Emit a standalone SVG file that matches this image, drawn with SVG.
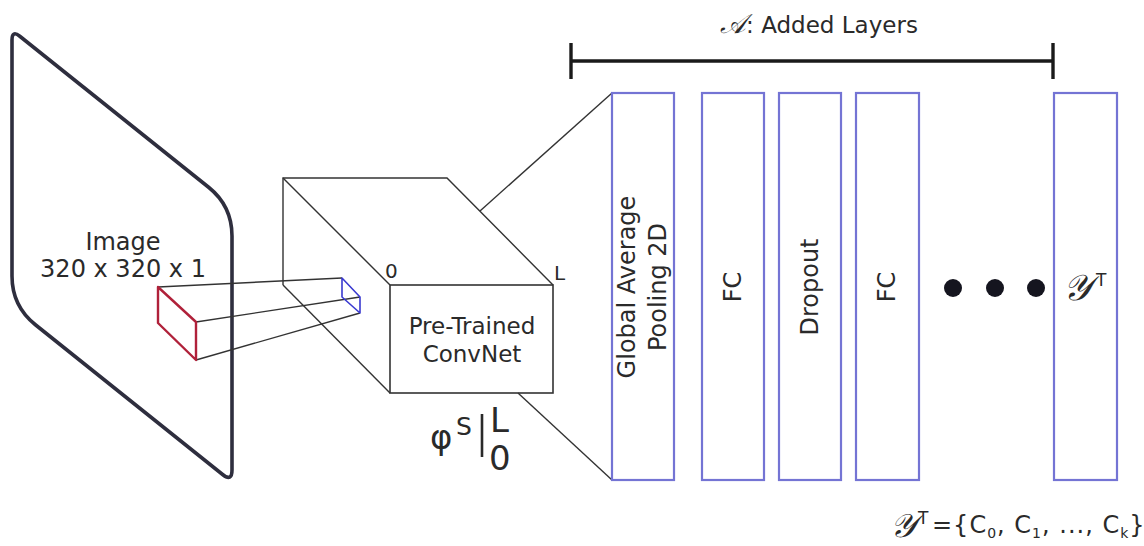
<svg xmlns="http://www.w3.org/2000/svg" width="1144" height="546" viewBox="0 0 1144 546">
<style>
  text { font-family: "DejaVu Sans", "Liberation Sans", sans-serif; fill: #2a2a2a; }
  .script { font-family: "DejaVu Serif", "Liberation Serif", serif; font-style: italic; }
  .layer { fill: #ffffff; stroke: #7474d4; stroke-width: 2.2; }
  .thin { fill: none; stroke: #333333; stroke-width: 1.4; }
  .lbl { font-size: 24px; text-anchor: middle; }
</style>
<rect width="1144" height="546" fill="#ffffff"/>

<g id="image-panel">
  <path d="M12,40 Q12,30 19.8,36.25 L208.6,187.25 Q232,206 232,236 L232,470 Q232,482 222.6,474.5 L35.4,324.75 Q12,306 12,276 Z" fill="none" stroke="#2e2e3e" stroke-width="3.6" stroke-linejoin="round"/>
  <text class="lbl" x="123" y="250">Image</text>
  <text class="lbl" x="123" y="277">320 x 320 x 1</text>
</g>

<g id="connectors">
  <line class="thin" x1="158" y1="287" x2="342" y2="278"/>
  <line class="thin" x1="196" y1="322" x2="360" y2="297"/>
  <line class="thin" x1="196" y1="360" x2="360" y2="313"/>
  <line class="thin" x1="480" y1="211" x2="612" y2="93"/>
  <line class="thin" x1="518" y1="393" x2="612" y2="480"/>
</g>

<g id="receptive-field">
  <polygon points="158,287 196,322 196,360 158,323" fill="none" stroke="#b0213a" stroke-width="2.4" stroke-linejoin="round"/>
</g>

<g id="convnet">
  <polyline class="thin" points="283,285 283,178 447,178 553,285"/>
  <line class="thin" x1="283" y1="178" x2="390" y2="285"/>
  <line class="thin" x1="283" y1="285" x2="390" y2="393"/>
  <rect x="390" y="285" width="163" height="108" fill="none" stroke="#333333" stroke-width="1.6"/>
  <text x="385" y="278" font-size="20">0</text>
  <text x="554" y="280" font-size="20">L</text>
  <text x="472" y="334" font-size="23" text-anchor="middle">Pre-Trained</text>
  <text x="472" y="362" font-size="23" text-anchor="middle">ConvNet</text>
</g>

<g id="feature-map">
  <polygon points="342,278 360,297 360,313 342,297" fill="none" stroke="#3a3ad0" stroke-width="1.6" stroke-linejoin="round"/>
</g>

<g id="phi-label">
  <text x="430" y="449" font-size="34">φ</text>
  <text x="456" y="435" font-size="25">S</text>
  <line x1="482" y1="414" x2="482" y2="457" stroke="#2a2a2a" stroke-width="2.6"/>
  <text x="490" y="432" font-size="34">L</text>
  <text x="489" y="470" font-size="34">0</text>
</g>

<g id="added-layers-bracket">
  <line x1="571" y1="61" x2="1053" y2="61" stroke="#1a1a1a" stroke-width="3.4"/>
  <line x1="571" y1="43" x2="571" y2="79" stroke="#1a1a1a" stroke-width="3.4"/>
  <line x1="1053" y1="43" x2="1053" y2="79" stroke="#1a1a1a" stroke-width="3.4"/>
  <text x="819" y="33" font-size="23" text-anchor="middle"><tspan class="script" font-size="27">𝒜</tspan>: Added Layers</text>
</g>

<g id="gap-layer">
  <rect class="layer" x="612" y="93" width="62" height="387"/>
  <text class="lbl" transform="translate(635,287) rotate(-90)">Global Average</text>
  <text class="lbl" transform="translate(666,287) rotate(-90)">Pooling 2D</text>
</g>

<g id="fc-layer-1">
  <rect class="layer" x="702" y="93" width="62" height="387"/>
  <text class="lbl" transform="translate(741,287) rotate(-90)">FC</text>
</g>

<g id="dropout-layer">
  <rect class="layer" x="779" y="93" width="62" height="387"/>
  <text class="lbl" transform="translate(818,287) rotate(-90)">Dropout</text>
</g>

<g id="fc-layer-2">
  <rect class="layer" x="856" y="93" width="63" height="387"/>
  <text class="lbl" transform="translate(895,287) rotate(-90)">FC</text>
</g>

<g id="ellipsis">
  <circle cx="953" cy="288" r="9" fill="#15151f"/>
  <circle cx="995" cy="288" r="9" fill="#15151f"/>
  <circle cx="1036" cy="288" r="9" fill="#15151f"/>
</g>

<g id="output-layer">
  <rect class="layer" x="1054" y="93" width="63" height="387"/>
  <text class="script" x="1063" y="300" font-size="36">𝒴</text>
  <text x="1096" y="286" font-size="17">T</text>
</g>

<g id="target-set">
  <text class="script" x="890" y="537" font-size="33">𝒴</text>
  <text x="918" y="524" font-size="17">T</text>
  <text x="932" y="533" font-size="24" letter-spacing="1">={C<tspan font-size="14" dy="5">0</tspan><tspan dy="-5">, C</tspan><tspan font-size="14" dy="5">1</tspan><tspan dy="-5">, ..., C</tspan><tspan font-size="14" dy="5">k</tspan><tspan dy="-5">}</tspan></text>
</g>
</svg>
